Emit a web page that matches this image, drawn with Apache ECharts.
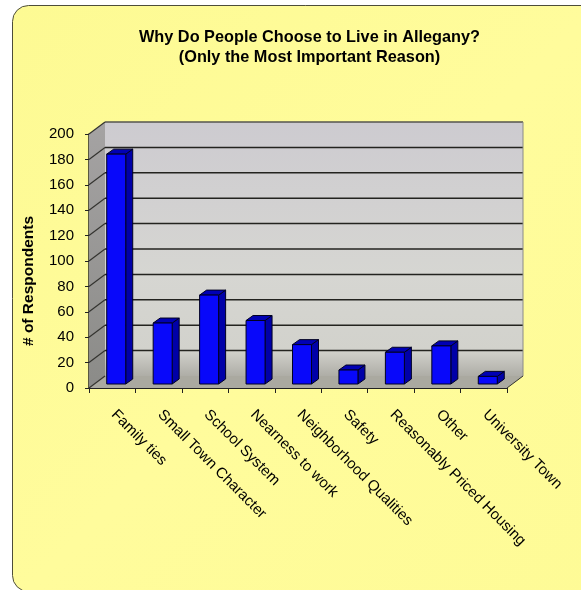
<!DOCTYPE html>
<html>
<head>
<meta charset="utf-8">
<style>
html, body { margin: 0; padding: 0; background: #fff; }
#chart { width: 581px; height: 590px; }
</style>
</head>
<body>
<div id="chart"></div>
<script src="https://cdn.jsdelivr.net/npm/echarts@6/dist/echarts.min.js"></script>
<script>
const categories = ['Family ties', 'Small Town Character', 'School System', 'Nearness to work',
  'Neighborhood Qualities', 'Safety', 'Reasonably Priced Housing', 'Other', 'University Town']
const respondents = [181, 48, 70, 50, 31, 11, 25, 30, 6]
const yTicks = [0, 20, 40, 60, 80, 100, 120, 140, 160, 180, 200]

// 3d depth of the box and of the bars, in px
const boxDx = 16
const boxDy = -12
const barDx = 7
const barDy = -5
const barShiftX = 4
const barShiftY = -4
const barWidth = 19

function poly (points, fill, stroke) {
  return {
    type: 'polygon',
    shape: { points: points },
    style: { fill: fill, stroke: stroke || null, lineWidth: stroke ? 1 : 0 }
  }
}

function line (x1, y1, x2, y2, color, width) {
  return {
    type: 'line',
    shape: { x1: x1, y1: y1, x2: x2, y2: y2 },
    style: { stroke: color, lineWidth: width }
  }
}

function vGrad (stops) {
  return new echarts.graphic.LinearGradient(0, 0, 0, 1, stops)
}

// back wall, side wall and floor
function renderBox (params, api) {
  const r = params.coordSys
  const l = r.x
  const b = r.y + r.height
  const t = r.y
  const e = r.x + r.width
  const children = [
    poly([[l + boxDx, t + boxDy], [e + boxDx, t + boxDy], [e + boxDx, b + boxDy], [l + boxDx, b + boxDy]],
      vGrad([{ offset: 0, color: '#cdcbd0' }, { offset: 0.6, color: '#d6d6d2' }, { offset: 0.9, color: '#d2d2cc' }, { offset: 1, color: '#aeada6' }])),
    poly([[l, t], [l + boxDx, t + boxDy], [l + boxDx, b + boxDy], [l, b]],
      vGrad([{ offset: 0, color: '#a5a3a3' }, { offset: 1, color: '#8b8b88' }])),
    poly([[l, b], [l + boxDx, b + boxDy], [e + boxDx, b + boxDy], [e, b]], '#aaa9a0')
  ]
  yTicks.forEach(function (v) {
    const y = api.coord([0, v])[1]
    if (v > 0) {
      children.push(line(l + boxDx, y + boxDy, e + boxDx, y + boxDy, v === 200 ? '#55554f' : '#23231f', 1.5))
    }
    children.push(line(l, y, l + boxDx, y + boxDy, '#33332f', 1.2))
  })
  children.push(line(e + boxDx, t + boxDy, e + boxDx, b + boxDy, '#8a8a88', 1))
  children.push(line(e, b, e + boxDx, b + boxDy, '#33332f', 1))
  return { type: 'group', children: children }
}

function renderBar (params, api) {
  const top = api.coord([api.value(0), api.value(1)])
  const base = api.coord([api.value(0), 0])
  const x1 = top[0] + barShiftX - barWidth / 2
  const x2 = x1 + barWidth
  const yt = top[1] + barShiftY
  const yb = base[1] + barShiftY
  const edge = '#000022'
  return {
    type: 'group',
    children: [
      poly([[x2, yt], [x2 + barDx, yt + barDy], [x2 + barDx, yb + barDy], [x2, yb]], '#0000a8', edge),
      poly([[x1, yt], [x1 + barDx, yt + barDy], [x2 + barDx, yt + barDy], [x2, yt]], '#0000b4', edge),
      poly([[x1, yt], [x2, yt], [x2, yb], [x1, yb]], '#0808fa', edge)
    ]
  }
}

const chart = echarts.init(document.getElementById('chart'))
chart.setOption({
  animation: false,
  backgroundColor: '#ffffff',
  textStyle: { fontFamily: '"Liberation Sans", Arial, sans-serif' },
  graphic: [{
    type: 'rect',
    z: -10,
    silent: true,
    shape: { x: 12.5, y: 5.5, width: 600, height: 586, r: 16 },
    style: {
      fill: new echarts.graphic.LinearGradient(0, 0, 1, 1, [
        { offset: 0, color: '#fdfa93' },
        { offset: 0.5, color: '#fffc9c' },
        { offset: 1, color: '#fefb96' }
      ]),
      stroke: '#4d4d3a',
      lineWidth: 1
    }
  }],
  title: {
    text: 'Why Do People Choose to Live in Allegany?\n(Only the Most Important Reason)',
    left: 304.5,
    top: 23,
    textAlign: 'center',
    textStyle: { fontSize: 16.3, fontWeight: 'bold', color: '#000', lineHeight: 20, fontFamily: '"Liberation Sans", Arial, sans-serif' }
  },
  grid: { left: 89, top: 134, width: 418, height: 254 },
  xAxis: {
    type: 'category',
    data: categories,
    axisLine: { lineStyle: { color: '#222', width: 1 } },
    axisTick: { show: true, length: 5, inside: false, lineStyle: { color: '#222' } },
    axisLabel: { interval: 0, rotate: -45, margin: 23, padding: [0, 0, 0, 2], fontSize: 15, color: '#000' }
  },
  yAxis: {
    type: 'value',
    min: 0,
    max: 200,
    interval: 20,
    name: '# of Respondents',
    nameLocation: 'middle',
    nameGap: 52,
    nameTextStyle: { fontSize: 15.5, fontWeight: 'bold', color: '#000', padding: [0, 40, 0, 0] },
    axisLine: { show: true, lineStyle: { color: '#222', width: 1.5 } },
    axisTick: { show: true, length: 4, lineStyle: { color: '#222' } },
    axisLabel: { margin: 15, fontSize: 15, color: '#000' },
    splitLine: { show: false }
  },
  series: [
    { type: 'custom', name: 'box', z: 1, silent: true, data: [[0, 0]], renderItem: renderBox, clip: false },
    {
      type: 'custom',
      name: 'Respondents',
      z: 2,
      data: respondents.map(function (v, i) { return [i, v] }),
      encode: { x: 0, y: 1 },
      renderItem: renderBar,
      clip: false
    }
  ]
})
window.onresize = function () {
  chart.resize()
}
</script>
</body>
</html>
